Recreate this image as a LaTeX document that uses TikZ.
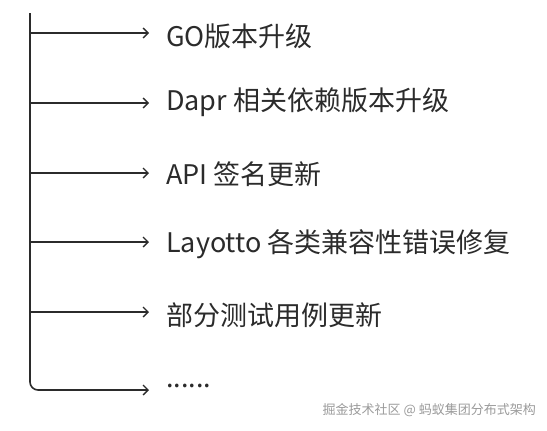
\documentclass[tikz,border=0pt]{standalone}
\usepackage{fontspec}
\setmainfont{Noto Sans CJK SC}
\usetikzlibrary{arrows.meta}
\definecolor{ink}{HTML}{2B2B2B}
\definecolor{wm}{HTML}{9A9A9A}
\begin{document}
\begin{tikzpicture}[x=1pt,y=-1pt,
  conn/.style={draw=ink,line width=1.6pt,-{Straight Barb[length=5pt,width=10pt,line width=1.4pt]}},
  item/.style={anchor=west,inner sep=0pt,text=ink,font=\fontsize{27}{30}\selectfont},
  wmtext/.style={anchor=east,inner sep=0pt,text=wm,font=\fontsize{13}{15}\selectfont}]
\useasboundingbox (0,0) rectangle (547,431);
\coordinate (top) at (30,13);
\foreach \n/\y in {a/33,b/103,c/173,d/242,e/312}{
  \coordinate (s\n) at (30,\y);
  \coordinate (t\n) at (149,\y);
}
\coordinate (tf) at (149,390);
\node[item] (na) at (166,36) {GO版本升级};
\node[item] (nb) at (166,102) {Dapr 相关依赖版本升级};
\node[item] (nc) at (166,174) {API 签名更新};
\node[item] (nd) at (166,244) {Layotto 各类兼容性错误修复};
\node[item] (ne) at (166,315) {部分测试用例更新};
\node[item] (nf) at (166,386) {......};
\draw[draw=ink,line width=1.6pt,rounded corners=8pt,-{Straight Barb[length=5pt,width=10pt,line width=1.4pt]}] (top) |- (tf);
\foreach \n in {a,b,c,d,e}{
  \draw[conn] (s\n) -- (t\n);
}
\node[wmtext] (wmk) at (536,410) {掘金技术社区 @ 蚂蚁集团分布式架构};
\end{tikzpicture}
\end{document}
